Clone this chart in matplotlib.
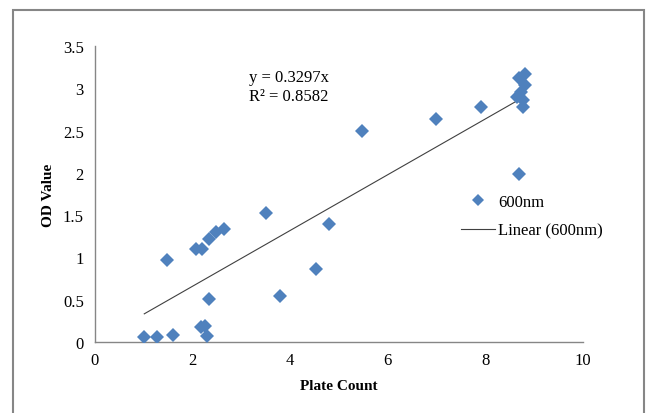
import numpy as np
import matplotlib.pyplot as plt
from matplotlib.patches import Rectangle
from matplotlib.lines import Line2D

plt.rcParams['font.family'] = ['Liberation Serif', 'DejaVu Serif']

# Plate count vs OD value at 600nm
plate_count = [1.01, 1.28, 1.60, 1.47, 2.07, 2.19, 2.34, 2.49, 2.64, 3.50,
               4.80, 4.53, 3.79, 2.34, 2.17, 2.25, 2.29, 5.48, 6.98, 7.92,
               8.68, 8.81, 8.81, 8.74, 8.64, 8.77, 8.77, 8.69]
od_value = [0.056, 0.063, 0.086, 0.966, 1.10, 1.10, 1.22, 1.30, 1.34, 1.52,
            1.40, 0.86, 0.54, 0.51, 0.18, 0.19, 0.075, 2.49, 2.64, 2.78,
            3.12, 3.17, 3.04, 2.96, 2.90, 2.86, 2.78, 1.99]

SLOPE = 0.3297
R2 = 0.8582
BLUE = '#4F81BD'
GRAY = '#868686'

fig = plt.figure(figsize=(6.51, 4.14), dpi=100)
ax = fig.add_axes([0.1459, 0.1715, 0.7496, 0.715])

ax.plot(plate_count, od_value, linestyle='none', marker='D', ms=6.8,
        color=BLUE, mec=BLUE, mew=0, zorder=3)

# trendline through the origin, over the data range
xs = np.array([min(plate_count), max(plate_count)])
ax.plot(xs, SLOPE * xs, color='#404040', lw=0.8, zorder=2)

ax.set_xlim(0, 10)
ax.set_ylim(0, 3.5)
ax.set_xticks([0, 2, 4, 6, 8, 10])
ax.set_yticks([0, 0.5, 1, 1.5, 2, 2.5, 3, 3.5])
ax.set_yticklabels(['0', '0.5', '1', '1.5', '2', '2.5', '3', '3.5'])
ax.tick_params(length=0, labelsize=12, pad=8)
ax.tick_params(axis='x', pad=7)
for side in ['top', 'right']:
    ax.spines[side].set_visible(False)
for side in ['left', 'bottom']:
    ax.spines[side].set_color(GRAY)
    ax.spines[side].set_linewidth(1)

ax.set_xlabel('Plate Count', fontweight='bold', fontsize=11, labelpad=8)
ax.set_ylabel('OD Value', fontweight='bold', fontsize=11, labelpad=6)

ax.text(0.316, 0.895, 'y = %.4fx' % SLOPE, transform=ax.transAxes,
        fontsize=12, va='center', ha='left')
ax.text(0.316, 0.83, 'R² = %.4f' % R2, transform=ax.transAxes,
        fontsize=12, va='center', ha='left')

handles = [
    Line2D([], [], linestyle='none', marker='D', ms=6, color=BLUE, mew=0),
    Line2D([], [], color='#404040', lw=0.8),
]
ax.legend(handles, ['600nm', 'Linear (600nm)'], loc='upper left',
          bbox_to_anchor=(0.72, 0.55), frameon=False, fontsize=12,
          handlelength=2.0, handletextpad=0.2, labelspacing=0.75,
          bbox_transform=ax.transAxes)

# outer chart border
fig.patches.append(Rectangle((13 / 651, -0.05), (644 - 13) / 651, 1.05 - 11 / 414,
                             transform=fig.transFigure, fill=False,
                             edgecolor=GRAY, lw=1.5))

fig.savefig('out.png', dpi=100)
